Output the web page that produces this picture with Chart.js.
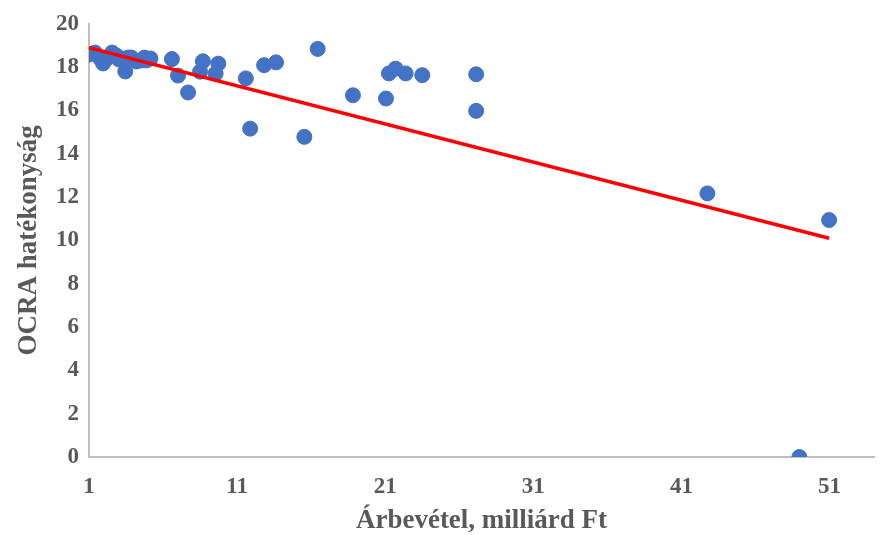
<!DOCTYPE html>
<html>
<head>
<meta charset="utf-8">
<script src="https://cdn.jsdelivr.net/npm/chart.js@4.4.1/dist/chart.umd.min.js"></script>
<style>
  html, body { margin: 0; padding: 0; background: #fff; }
  #wrap { width: 886px; height: 535px; }
</style>
</head>
<body>
<div id="wrap"><canvas id="myChart" width="886" height="535"></canvas></div>
<script>
// revenue (billion Ft) vs OCRA efficiency
const arbevetel = [
    1.0, 1.41, 1.75, 1.95, 2.22, 2.56, 2.84, 3.04, 3.24, 3.45, 3.65, 3.86, 4.2, 4.54, 4.74, 4.88, 5.15,
    6.6, 7.01, 7.69, 8.69, 8.5, 9.73, 9.55, 11.59, 11.88, 12.82, 13.63, 16.44, 15.54,
    18.82, 21.05, 21.25, 21.7, 22.38, 23.5, 27.14, 27.14, 42.75, 50.97, 48.96
];
const ocra = [
    18.58, 18.67, 18.4, 18.17, 18.4, 18.67, 18.54, 18.35, 18.4, 17.8, 18.44, 18.44, 18.26, 18.31, 18.44, 18.31, 18.4,
    18.37, 17.61, 16.83, 18.27, 17.79, 18.16, 17.7, 17.48, 15.16, 18.09, 18.22, 18.84, 14.78,
    16.7, 16.55, 17.71, 17.93, 17.71, 17.63, 17.67, 15.98, 12.17, 10.94, 0
];
// linear trend line end points
const trendX = [1, 50.97];
const trendY = [18.9, 10.1];

const xTicks = [1, 11, 21, 31, 41, 51];
const yTicks = [0, 2, 4, 6, 8, 10, 12, 14, 16, 18, 20];

const gray = '#595959';
const tickFont = { family: "'Liberation Serif', 'Times New Roman', serif", size: 23, weight: 'bold' };
const titleFont = { family: "'Liberation Serif', 'Times New Roman', serif", size: 27, weight: 'bold' };

let ctx = document.getElementById('myChart').getContext('2d');
let chart = new Chart(ctx, {
    type: 'scatter',
    data: {
        datasets: [{
                label: 'OCRA',
                data: arbevetel.map((x, i) => ({ x: x, y: ocra[i] })),
                backgroundColor: '#4472C4',
                borderColor: '#4472C4',
                pointRadius: 7.5,
                order: 2
            },
            {
                label: 'Trend',
                type: 'line',
                data: trendX.map((x, i) => ({ x: x, y: trendY[i] })),
                borderColor: '#FF0000',
                borderWidth: 3.5,
                pointRadius: 0,
                fill: false,
                order: 1
            }
        ]
    },
    options: {
        responsive: false,
        animation: false,
        plugins: {
            legend: { display: false },
            tooltip: { enabled: false }
        },
        layout: {
            padding: { left: 0, right: 12, top: 12, bottom: 0 }
        },
        scales: {
            x: {
                type: 'linear',
                min: 1,
                max: 54,
                afterBuildTicks: (axis) => { axis.ticks = xTicks.map(v => ({ value: v })); },
                afterFit: (axis) => { axis.height = 78; },
                grid: { display: false, drawTicks: false },
                border: { color: '#BFBFBF', width: 2 },
                ticks: { color: gray, font: tickFont, padding: 16, maxRotation: 0 },
                title: { display: true, text: 'Árbevétel, milliárd Ft', color: gray, font: titleFont, padding: { top: 10, bottom: -2 } }
            },
            y: {
                min: 0,
                max: 20,
                afterBuildTicks: (axis) => { axis.ticks = yTicks.map(v => ({ value: v })); },
                afterFit: (axis) => { axis.width = 89; },
                grid: { display: false, drawTicks: false },
                border: { color: '#BFBFBF', width: 2 },
                ticks: { color: gray, font: tickFont, padding: 10 },
                title: { display: true, text: 'OCRA hatékonyság', color: gray, font: titleFont, padding: { top: 13, bottom: 4 } }
            }
        }
    }
});
</script>
</body>
</html>
